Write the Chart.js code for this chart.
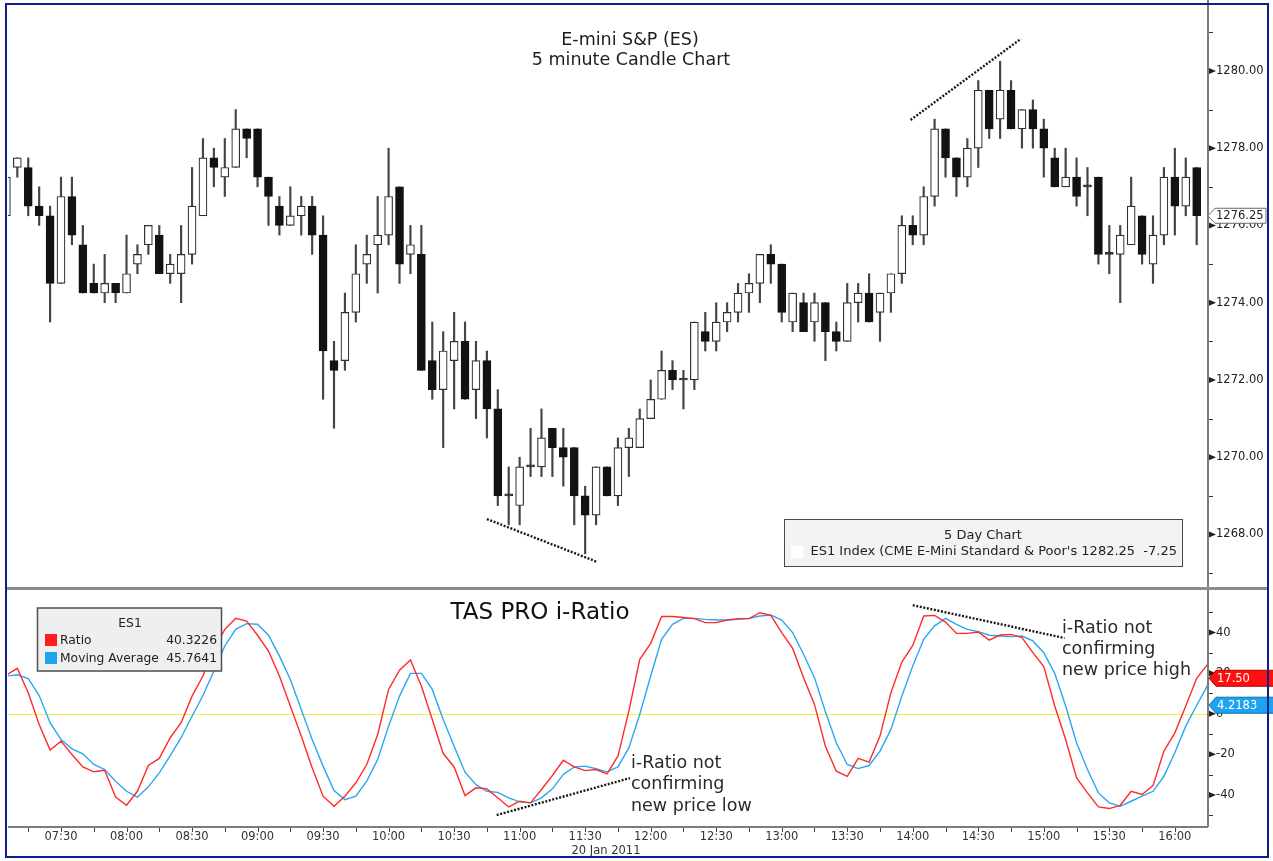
<!DOCTYPE html>
<html>
<head>
<meta charset="utf-8">
<title>E-mini S&amp;P (ES) 5 minute Candle Chart</title>
<script src="https://cdn.jsdelivr.net/npm/chart.js@4.4.1/dist/chart.umd.min.js"></script>
<style>
  html, body { margin: 0; padding: 0; background: #ffffff; }
  #wrap { position: relative; width: 1273px; height: 861px; overflow: hidden; background: #ffffff; }
  #priceCanvas { position: absolute; left: 0; top: 0; }
  #oscCanvas { position: absolute; left: 0; top: 590px; }
  #divider { position: absolute; left: 6px; top: 587px; width: 1262px; height: 3px; background: #8c8c8c; }
  #frame { position: absolute; left: 5px; top: 3px; width: 1260px; height: 851px; border: 2px solid #101e8a; pointer-events: none; }
</style>
</head>
<body>
<div id="wrap">
  <canvas id="priceCanvas" width="1273" height="590" style="width:1273px;height:590px"></canvas>
  <canvas id="oscCanvas" width="1273" height="271" style="width:1273px;height:271px"></canvas>
  <div id="divider"></div>
  <div id="frame"></div>
</div>
<script>
// ---- 5-minute bars, 20 Jan 2011 ----
const times = [
  '07:05','07:10','07:15','07:20','07:25','07:30','07:35','07:40','07:45','07:50','07:55',
  '08:00','08:05','08:10','08:15','08:20','08:25','08:30','08:35','08:40','08:45','08:50','08:55',
  '09:00','09:05','09:10','09:15','09:20','09:25','09:30','09:35','09:40','09:45','09:50','09:55',
  '10:00','10:05','10:10','10:15','10:20','10:25','10:30','10:35','10:40','10:45','10:50','10:55',
  '11:00','11:05','11:10','11:15','11:20','11:25','11:30','11:35','11:40','11:45','11:50','11:55',
  '12:00','12:05','12:10','12:15','12:20','12:25','12:30','12:35','12:40','12:45','12:50','12:55',
  '13:00','13:05','13:10','13:15','13:20','13:25','13:30','13:35','13:40','13:45','13:50','13:55',
  '14:00','14:05','14:10','14:15','14:20','14:25','14:30','14:35','14:40','14:45','14:50','14:55',
  '15:00','15:05','15:10','15:15','15:20','15:25','15:30','15:35','15:40','15:45','15:50','15:55',
  '16:00','16:05','16:10','16:15'
];

const opens = [
  1276.25,1277.5,1277.5,1276.5,1276.25,1274.5,1276.75,1275.5,1274.5,1274.25,
  1274.5,1274.25,1275.0,1275.5,1275.75,1274.75,1274.75,1275.25,1276.25,1277.75,
  1277.25,1277.5,1278.5,1278.5,1277.25,1276.5,1276.0,1276.25,1276.5,1275.75,
  1272.5,1272.5,1273.75,1275.0,1275.5,1275.75,1277.0,1275.25,1275.25,1272.5,
  1271.75,1272.5,1273.0,1271.75,1272.5,1271.25,1269.0,1268.75,1269.75,1269.75,
  1270.75,1270.25,1270.25,1269.0,1268.5,1269.75,1269.0,1270.25,1270.25,1271.0,
  1271.5,1272.25,1272.0,1272.0,1273.25,1273.0,1273.5,1273.75,1274.25,1274.5,
  1275.25,1275.0,1273.5,1274.0,1273.5,1274.0,1273.25,1273.0,1274.0,1274.25,
  1273.75,1274.25,1274.75,1276.0,1275.75,1276.75,1278.5,1277.75,1277.25,1278.0,
  1279.5,1278.75,1279.5,1278.5,1279.0,1278.5,1277.75,1277.0,1277.25,1277.0,
  1277.25,1275.25,1275.25,1275.5,1276.25,1275.0,1275.75,1277.25,1276.5,1277.5
];
const highs = [
  1277.25,1277.75,1277.75,1277.0,1276.5,1277.25,1277.25,1276.0,1275.0,1275.25,
  1274.5,1275.75,1275.5,1276.0,1276.0,1275.25,1276.0,1277.5,1278.25,1278.0,
  1278.25,1279.0,1278.5,1278.5,1277.25,1276.75,1277.0,1276.75,1276.75,1276.25,
  1273.0,1274.25,1275.5,1275.75,1276.75,1278.0,1277.0,1276.0,1276.0,1273.5,
  1273.25,1273.75,1273.5,1273.0,1272.75,1271.75,1269.75,1270.0,1270.75,1271.25,
  1270.75,1270.75,1270.25,1269.25,1269.75,1269.75,1270.5,1270.75,1271.25,1272.0,
  1272.75,1272.5,1272.25,1273.5,1273.75,1274.0,1274.0,1274.5,1274.75,1275.25,
  1275.5,1275.0,1274.25,1274.25,1274.25,1274.0,1273.5,1274.5,1274.5,1274.75,
  1274.25,1274.75,1276.25,1276.25,1277.0,1278.75,1278.5,1277.75,1278.25,1279.75,
  1279.5,1280.25,1279.75,1279.0,1279.25,1278.75,1278.0,1278.0,1277.75,1277.5,
  1277.25,1276.0,1276.0,1277.25,1276.25,1276.25,1277.5,1278.0,1277.75,1277.5
];
const lows = [
  1276.25,1277.25,1276.25,1276.0,1273.5,1274.5,1275.5,1274.25,1274.25,1274.0,
  1274.0,1274.25,1274.75,1275.25,1274.75,1274.5,1274.0,1275.0,1276.25,1277.0,
  1276.75,1277.5,1277.75,1277.0,1276.0,1275.75,1276.0,1275.75,1275.25,1271.5,
  1270.75,1272.25,1273.5,1274.5,1274.25,1275.5,1274.5,1274.75,1272.25,1271.5,
  1270.25,1271.25,1271.5,1271.0,1270.5,1268.75,1268.25,1268.25,1269.5,1269.5,
  1269.5,1269.25,1268.25,1267.5,1268.25,1269.0,1268.75,1269.5,1270.25,1271.0,
  1271.5,1271.75,1271.25,1271.75,1272.75,1272.75,1273.25,1273.5,1273.75,1274.0,
  1274.5,1273.5,1273.25,1273.25,1273.0,1272.5,1272.75,1273.0,1273.5,1273.5,
  1273.0,1273.75,1274.5,1275.5,1275.5,1276.5,1277.25,1276.75,1277.0,1277.5,
  1278.25,1278.25,1278.5,1278.0,1278.0,1277.25,1277.0,1277.0,1276.5,1276.25,
  1275.0,1274.75,1274.0,1275.5,1275.0,1274.5,1275.5,1275.75,1276.25,1275.5
];
const closes = [
  1277.25,1277.75,1276.5,1276.25,1274.5,1276.75,1275.75,1274.25,1274.25,1274.5,
  1274.25,1274.75,1275.25,1276.0,1274.75,1275.0,1275.25,1276.5,1277.75,1277.5,
  1277.5,1278.5,1278.25,1277.25,1276.75,1276.0,1276.25,1276.5,1275.75,1272.75,
  1272.25,1273.75,1274.75,1275.25,1275.75,1276.75,1275.0,1275.5,1272.25,1271.75,
  1272.75,1273.0,1271.5,1272.5,1271.25,1269.0,1269.0,1269.75,1269.75,1270.5,
  1270.25,1270.0,1269.0,1268.5,1269.75,1269.0,1270.25,1270.5,1271.0,1271.5,
  1272.25,1272.0,1272.0,1273.5,1273.0,1273.5,1273.75,1274.25,1274.5,1275.25,
  1275.0,1273.75,1274.25,1273.25,1274.0,1273.25,1273.0,1274.0,1274.25,1273.5,
  1274.25,1274.75,1276.0,1275.75,1276.75,1278.5,1277.75,1277.25,1278.0,1279.5,
  1278.5,1279.5,1278.5,1279.0,1278.5,1278.0,1277.0,1277.25,1276.75,1277.0,
  1275.25,1275.25,1275.75,1276.5,1275.25,1275.75,1277.25,1276.5,1277.25,1276.25
];

// ---- TAS PRO i-Ratio and its moving average ----
const ratio = [
  19.1,22.4,10.4,-5.3,-17.9,-13.5,-20.1,-26.2,-28.6,-27.8,
  -41.0,-45.1,-38.2,-25.5,-22.0,-11.8,-4.4,8.7,18.6,31.7,
  41.6,47.0,45.7,38.7,30.9,18.6,3.8,-11.0,-26.6,-40.6,
  -45.6,-40.6,-34.0,-25.0,-10.2,12.0,21.5,26.5,13.7,-2.8,
  -19.6,-26.2,-40.3,-36.5,-37.0,-41.4,-45.9,-43.1,-43.9,-37.3,
  -30.4,-22.9,-26.2,-28.0,-27.5,-29.6,-20.9,1.3,26.8,34.7,
  47.9,47.9,47.4,46.9,44.9,44.9,46.2,46.9,46.9,49.8,
  48.5,40.0,32.2,17.8,4.6,-16.0,-28.3,-30.8,-22.0,-23.8,
  -11.0,10.4,25.5,33.7,48.2,48.5,45.2,39.6,39.6,40.3,
  36.3,38.8,39.1,37.5,30.1,23.2,3.8,-12.7,-31.6,-39.0,
  -45.9,-46.7,-45.1,-38.2,-39.8,-35.4,-18.4,-9.4,3.8,17.5,
  24.3
];
const movingAvg = [
  18.6,19.2,17.3,9.0,-4.4,-12.7,-17.3,-19.7,-25.0,-27.5,
  -33.2,-38.2,-41.1,-36.0,-29.1,-20.6,-11.8,-1.2,9.0,21.1,
  33.4,41.6,44.4,44.1,38.7,28.5,16.9,2.1,-12.7,-25.8,
  -37.8,-42.3,-40.6,-33.2,-22.5,-6.1,8.7,19.9,19.9,12.0,
  -2.8,-16.0,-28.8,-34.9,-38.2,-38.7,-41.4,-43.4,-43.9,-41.4,
  -37.0,-29.9,-26.2,-25.8,-27.1,-28.6,-26.2,-16.8,-0.3,18.6,
  36.7,44.1,47.0,47.0,46.5,46.2,46.2,46.5,47.0,48.2,
  48.7,46.2,40.0,29.3,17.8,1.0,-14.3,-25.0,-27.0,-25.5,
  -18.4,-7.7,8.7,23.5,36.7,43.3,47.0,44.1,41.6,40.5,
  38.7,38.3,38.0,38.3,35.9,30.1,19.9,3.8,-14.3,-27.5,
  -39.0,-43.9,-45.6,-43.1,-40.6,-38.2,-30.8,-19.2,-6.1,4.2183,
  14.0
];

// axis ticks
const priceTicks = [1267,1268,1269,1270,1271,1272,1273,1274,1275,1276,1277,1278,1279,1280,1281];
const oscTicks = [-50,-40,-30,-20,-10,0,10,20,30,40,50];
const zeroLevel = 0;

// legend readout and info box text
const legendTitle = 'ES1';
const legendRatio = 40.3226;
const legendMA = 45.7641;
const infoTitle = '5 Day Chart';
const infoLine = "ES1 Index (CME E-Mini Standard & Poor's 1282.25  -7.25";
const sessionDate = '20 Jan 2011';

// dotted divergence guides: [bar index, level]
const priceLowGuide = [[44.0, 1268.40], [54.1, 1267.29]];
const priceHighGuide = [[82.8, 1278.73], [92.9, 1280.83]];
const oscLowGuide = [[44.9, -49.9], [57.1, -31.7]];
const oscHighGuide = [[83.0, 53.5], [96.9, 37.3]];

// ---------------------------------------------------------------
const FONT = 'DejaVu Sans';
const lastBar = closes.length - 1;
const X_MIN = 0.1465, X_MAX = 109.945;

const bodies = closes.map((c, i) => ({ x: i, y: [opens[i], c] }));
const wicks = closes.map((c, i) => ({ x: i, y: [lows[i], highs[i]] }));
const bodyFill = closes.map((c, i) => c > opens[i] ? '#ffffff' : (c < opens[i] ? '#121212' : '#2a2a2a'));
const bodyEdge = closes.map((c, i) => c > opens[i] ? '#303030' : (c < opens[i] ? '#121212' : '#2a2a2a'));

function minuteOf(t) { return parseInt(t.split(':')[1], 10); }

// keep the plot area exactly where the layout padding puts it
function fixVertical(s) { s.width = 66; s.paddingTop = 0; s.paddingBottom = 0; }
function fixHorizontal(s) { s.height = 35; s.paddingLeft = 0; s.paddingRight = 0; }

function drawAxisTicks(ctx, yScale, area, majorStep) {
  ctx.fillStyle = '#222';
  ctx.strokeStyle = '#333';
  ctx.lineWidth = 1;
  yScale.ticks.forEach(t => {
    const py = yScale.getPixelForValue(t.value);
    if (Math.abs(t.value % majorStep) < 1e-9) {
      ctx.beginPath();
      ctx.moveTo(area.right + 2, py - 3);
      ctx.lineTo(area.right + 9, py);
      ctx.lineTo(area.right + 2, py + 3);
      ctx.closePath();
      ctx.fill();
    } else {
      ctx.beginPath();
      ctx.moveTo(area.right + 2, Math.round(py) + 0.5);
      ctx.lineTo(area.right + 6, Math.round(py) + 0.5);
      ctx.stroke();
    }
  });
}

function drawGuide(ctx, xs, ys, pts) {
  ctx.save();
  ctx.strokeStyle = '#1a1a1a';
  ctx.lineWidth = 2.4;
  ctx.setLineDash([2, 1.6]);
  ctx.beginPath();
  ctx.moveTo(xs.getPixelForValue(pts[0][0]), ys.getPixelForValue(pts[0][1]));
  ctx.lineTo(xs.getPixelForValue(pts[1][0]), ys.getPixelForValue(pts[1][1]));
  ctx.stroke();
  ctx.restore();
}

function valueTag(ctx, xTip, yc, w, h, fill, stroke, text, color) {
  ctx.beginPath();
  ctx.moveTo(xTip, yc);
  ctx.lineTo(xTip + 7, yc - h / 2);
  ctx.lineTo(xTip + w, yc - h / 2);
  ctx.lineTo(xTip + w, yc + h / 2);
  ctx.lineTo(xTip + 7, yc + h / 2);
  ctx.closePath();
  ctx.fillStyle = fill;
  ctx.fill();
  ctx.strokeStyle = stroke;
  ctx.lineWidth = 1;
  ctx.stroke();
  ctx.fillStyle = color;
  ctx.font = '11.5px "' + FONT + '"';
  ctx.textAlign = 'left';
  ctx.textBaseline = 'middle';
  ctx.fillText(text, xTip + 8, yc + 0.5);
}

// ---- upper panel decorations ----
const priceDecor = {
  id: 'priceDecor',
  afterDatasetsDraw(chart) {
    const { ctx, chartArea: a, scales: { x, y } } = chart;
    ctx.save();
    ctx.beginPath();
    ctx.rect(a.left, a.top, a.right - a.left, a.bottom - a.top);
    ctx.clip();
    drawGuide(ctx, x, y, priceLowGuide);
    drawGuide(ctx, x, y, priceHighGuide);
    ctx.restore();
  },
  afterDraw(chart) {
    const { ctx, chartArea: a, scales: { y } } = chart;
    ctx.save();
    // right axis line
    ctx.strokeStyle = '#7c7c7c';
    ctx.lineWidth = 2;
    ctx.beginPath();
    ctx.moveTo(a.right + 1, 0);
    ctx.lineTo(a.right + 1, chart.height);
    ctx.stroke();
    drawAxisTicks(ctx, y, a, 2);

    // title
    ctx.fillStyle = '#1e1e1e';
    ctx.font = '17.5px "' + FONT + '"';
    ctx.textAlign = 'center';
    ctx.textBaseline = 'middle';
    ctx.fillText('E-mini S&P (ES)', 630, 40);
    ctx.fillText('5 minute Candle Chart', 631, 60);

    // info box
    ctx.fillStyle = '#f3f3f3';
    ctx.fillRect(784.5, 519.5, 398, 47);
    ctx.strokeStyle = '#4a4a4a';
    ctx.lineWidth = 1;
    ctx.strokeRect(784.5, 519.5, 398, 47);
    ctx.fillStyle = '#222';
    ctx.font = '13px "' + FONT + '"';
    ctx.textAlign = 'center';
    ctx.fillText(infoTitle, 983, 536);
    ctx.fillStyle = '#ffffff';
    ctx.fillRect(791, 546, 12, 12);
    ctx.fillStyle = '#222';
    ctx.textAlign = 'right';
    ctx.fillText(infoLine, 1177, 552);

    // last price tag
    const yc = y.getPixelForValue(closes[lastBar]);
    valueTag(ctx, a.right + 1, yc, 58, 15, '#ffffff', '#6a6a6a', closes[lastBar].toFixed(2), '#222');
    ctx.restore();
  }
};

// ---- lower panel decorations ----
const oscDecor = {
  id: 'oscDecor',
  beforeDatasetsDraw(chart) {
    const { ctx, chartArea: a, scales: { y } } = chart;
    const py = Math.round(y.getPixelForValue(zeroLevel)) + 0.5;
    ctx.save();
    ctx.strokeStyle = '#f4f03a';
    ctx.lineWidth = 1.2;
    ctx.beginPath();
    ctx.moveTo(a.left, py);
    ctx.lineTo(a.right, py);
    ctx.stroke();
    ctx.restore();
  },
  afterDatasetsDraw(chart) {
    const { ctx, chartArea: a, scales: { x, y } } = chart;
    ctx.save();
    ctx.beginPath();
    ctx.rect(a.left, a.top, a.right - a.left, a.bottom - a.top);
    ctx.clip();
    drawGuide(ctx, x, y, oscLowGuide);
    drawGuide(ctx, x, y, oscHighGuide);
    ctx.restore();
  },
  afterDraw(chart) {
    const { ctx, chartArea: a, scales: { x, y } } = chart;
    ctx.save();
    // axis lines
    ctx.strokeStyle = '#7c7c7c';
    ctx.lineWidth = 2;
    ctx.beginPath();
    ctx.moveTo(a.right + 1, 0);
    ctx.lineTo(a.right + 1, a.bottom + 1);
    ctx.moveTo(a.left, a.bottom + 1);
    ctx.lineTo(a.right + 1, a.bottom + 1);
    ctx.stroke();
    drawAxisTicks(ctx, y, a, 20);
    // time ticks
    ctx.strokeStyle = '#444';
    ctx.lineWidth = 1;
    x.ticks.forEach(t => {
      const px = Math.round(x.getPixelForValue(t.value)) + 0.5;
      ctx.beginPath();
      ctx.moveTo(px, a.bottom + 2);
      ctx.lineTo(px, a.bottom + 6);
      ctx.stroke();
    });
    // session date
    ctx.fillStyle = '#333';
    ctx.font = '11.5px "' + FONT + '"';
    ctx.textAlign = 'center';
    ctx.textBaseline = 'middle';
    ctx.fillText(sessionDate, 606, 261);

    // panel title
    ctx.fillStyle = '#111';
    ctx.font = '23px "' + FONT + '"';
    ctx.fillText('TAS PRO i-Ratio', 540, 23);

    // notes
    ctx.fillStyle = '#2a2a2a';
    ctx.font = '17.5px "' + FONT + '"';
    ctx.textAlign = 'left';
    ['i-Ratio not', 'confirming', 'new price low'].forEach((s, k) => ctx.fillText(s, 631, 173 + k * 21.5));
    ['i-Ratio not', 'confirming', 'new price high'].forEach((s, k) => ctx.fillText(s, 1062, 38 + k * 21));

    // legend box
    ctx.fillStyle = '#efefef';
    ctx.fillRect(37.5, 18, 184, 63);
    ctx.strokeStyle = '#4e4e4e';
    ctx.lineWidth = 1.5;
    ctx.strokeRect(37.5, 18, 184, 63);
    ctx.fillStyle = '#222';
    ctx.font = '12.3px "' + FONT + '"';
    ctx.textAlign = 'center';
    ctx.fillText(legendTitle, 130, 34);
    ctx.fillStyle = '#ff1e1e';
    ctx.fillRect(45, 44, 12, 12);
    ctx.fillStyle = '#1ea2f2';
    ctx.fillRect(45, 62, 12, 12);
    ctx.fillStyle = '#222';
    ctx.textAlign = 'left';
    ctx.fillText('Ratio', 60, 50.5);
    ctx.fillText('Moving Average', 60, 68.5);
    ctx.textAlign = 'right';
    ctx.fillText(legendRatio.toFixed(4), 217, 50.5);
    ctx.fillText(legendMA.toFixed(4), 217, 68.5);

    // current value tags
    const ry = y.getPixelForValue(ratio[lastBar]);
    const by = y.getPixelForValue(movingAvg[lastBar]);
    valueTag(ctx, a.right + 2, ry, 70, 16, '#ff1010', '#b00000', ratio[lastBar].toFixed(2), '#ffffff');
    valueTag(ctx, a.right + 2, by, 70, 16, '#1ea2f2', '#0a6fb0', movingAvg[lastBar].toFixed(4), '#ffffff');
    ctx.restore();
  }
};

const tickFont = { family: FONT, size: 11.5 };

new Chart(document.getElementById('priceCanvas'), {
  type: 'bar',
  data: {
    datasets: [
      {
        label: 'ES body',
        data: bodies,
        backgroundColor: bodyFill,
        borderColor: bodyEdge,
        borderWidth: 1.2,
        borderSkipped: false,
        barThickness: 8,
        minBarLength: 2,
        grouped: false,
        order: 0
      },
      {
        label: 'ES range',
        data: wicks,
        backgroundColor: '#444444',
        borderWidth: 0,
        barThickness: 1.5,
        grouped: false,
        order: 1
      }
    ]
  },
  options: {
    responsive: false,
    animation: false,
    devicePixelRatio: 1,
    events: [],
    layout: { padding: { left: 8, top: 5, right: 0, bottom: 2 } },
    plugins: { legend: { display: false }, tooltip: { enabled: false } },
    scales: {
      x: { type: 'linear', display: false, min: X_MIN, max: X_MAX, offset: false },
      y: {
        position: 'right',
        min: 1266.615,
        max: 1281.706,
        afterFit: fixVertical,
        afterBuildTicks: s => { s.ticks = priceTicks.map(v => ({ value: v })); },
        grid: { display: false, drawTicks: false },
        border: { display: false },
        ticks: {
          padding: 9,
          color: '#222',
          font: tickFont,
          autoSkip: false,
          callback: v => (v % 2 === 0 ? v.toFixed(2) : '')
        }
      }
    }
  },
  plugins: [priceDecor]
});

new Chart(document.getElementById('oscCanvas'), {
  type: 'line',
  data: {
    datasets: [
      {
        label: 'Ratio',
        data: ratio.map((v, i) => ({ x: i, y: v })),
        borderColor: '#ff2b2b',
        borderWidth: 1.4,
        pointRadius: 0,
        tension: 0,
        order: 0
      },
      {
        label: 'Moving Average',
        data: movingAvg.map((v, i) => ({ x: i, y: v })),
        borderColor: '#2ba6f4',
        borderWidth: 1.4,
        pointRadius: 0,
        tension: 0,
        order: 1
      }
    ]
  },
  options: {
    responsive: false,
    animation: false,
    devicePixelRatio: 1,
    events: [],
    layout: { padding: { left: 8, top: 2, right: 0, bottom: 0 } },
    plugins: { legend: { display: false }, tooltip: { enabled: false } },
    scales: {
      x: {
        type: 'linear',
        min: X_MIN,
        max: X_MAX,
        offset: false,
        afterFit: fixHorizontal,
        afterBuildTicks: s => {
          s.ticks = times
            .map((t, i) => ({ t, i }))
            .filter(o => minuteOf(o.t) % 15 === 0 && o.i > X_MIN && o.i < X_MAX)
            .map(o => ({ value: o.i }));
        },
        grid: { display: false, drawTicks: false },
        border: { display: false },
        ticks: {
          padding: 4,
          color: '#333',
          font: tickFont,
          autoSkip: false,
          maxRotation: 0,
          callback: v => (minuteOf(times[v]) % 30 === 0 ? times[v] : '')
        }
      },
      y: {
        position: 'right',
        min: -55.3,
        max: 60,
        afterFit: fixVertical,
        afterBuildTicks: s => { s.ticks = oscTicks.map(v => ({ value: v })); },
        grid: { display: false, drawTicks: false },
        border: { display: false },
        ticks: {
          padding: 9,
          color: '#222',
          font: tickFont,
          autoSkip: false,
          callback: v => (v % 20 === 0 ? String(v) : '')
        }
      }
    }
  },
  plugins: [oscDecor]
});
</script>
</body>
</html>
